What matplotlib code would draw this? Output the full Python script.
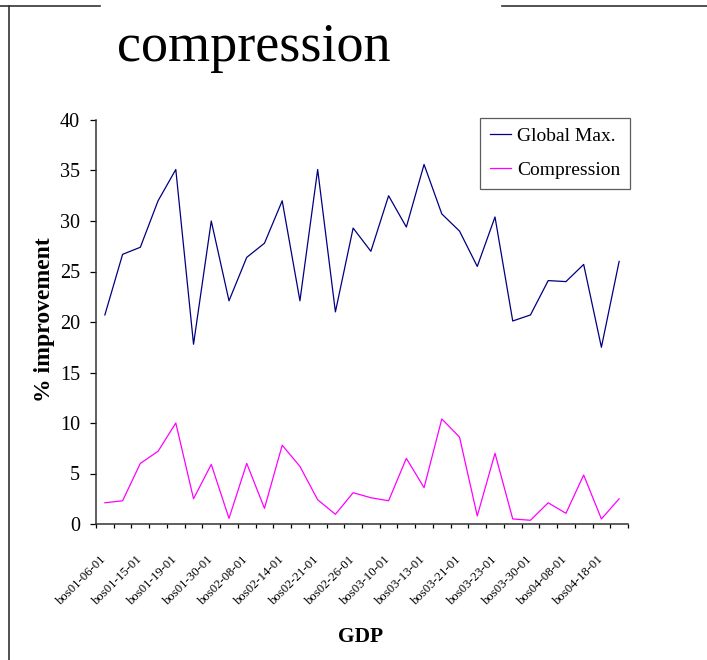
import numpy as np
import matplotlib
matplotlib.use('Agg')
from matplotlib import pyplot as plt
from matplotlib.lines import Line2D

plt.rcParams['font.family'] = ['Liberation Serif', 'DejaVu Serif']

# every other run date is labelled on the category axis
run_labels = ['bos01-06-01', 'bos01-15-01', 'bos01-19-01', 'bos01-30-01', 'bos02-08-01',
              'bos02-14-01', 'bos02-21-01', 'bos02-26-01', 'bos03-10-01', 'bos03-13-01',
              'bos03-21-01', 'bos03-23-01', 'bos03-30-01', 'bos04-08-01', 'bos04-18-01']
n_runs = 30

global_max = [20.7, 26.7, 27.4, 32.0, 35.1, 17.8, 30.0, 22.1, 26.4, 27.8,
              32.0, 22.1, 35.1, 21.0, 29.3, 27.0, 32.5, 29.4, 35.6, 30.7,
              29.0, 25.5, 30.4, 20.1, 20.7, 24.1, 24.0, 25.7, 17.5, 26.0]
compression = [2.1, 2.3, 6.0, 7.2, 10.0, 2.5, 5.9, 0.56, 6.0, 1.55,
               7.8, 5.7, 2.4, 0.96, 3.1, 2.6, 2.3, 6.5, 3.6, 10.4,
               8.6, 0.8, 7.0, 0.5, 0.37, 2.1, 1.06, 4.85, 0.5, 2.5]

W, H = 707, 660
fig = plt.figure(figsize=(W / 100, H / 100), dpi=100)
ax = fig.add_axes([96 / W, 1 - 524 / H, (628 - 96) / W, (524 - 120) / H])

x = np.arange(n_runs)
ax.plot(x, global_max, color='#000080', lw=0.9, label='Global Max.')
ax.plot(x, compression, color='#ff00ff', lw=0.9, label='Compression')

ax.set_xlim(-0.5, n_runs - 0.5)
ax.set_ylim(0, 40)
ax.set_yticks(np.arange(0, 41, 5))
ax.tick_params(axis='y', direction='out', length=4.5, width=0.9, pad=7, labelsize=14.5)

# tick marks between categories, labels under every second category
ax.set_xticks(np.arange(-0.5, n_runs, 1.0))
ax.set_xticklabels([])
ax.tick_params(axis='x', which='major', direction='out', length=3, width=0.9)
ax.set_xticks(np.arange(0, n_runs, 2), minor=True)
ax.set_xticklabels(run_labels, minor=True, rotation=45, ha='right', va='center',
                   rotation_mode='anchor', fontsize=9.2)
ax.tick_params(axis='x', which='minor', length=0, pad=24)

for side in ('top', 'right'):
    ax.spines[side].set_visible(False)
for side in ('left', 'bottom'):
    ax.spines[side].set_color('#333333')
    ax.spines[side].set_linewidth(1.1)

leg = ax.legend(loc='upper right', bbox_to_anchor=(1.004, 1.006), fontsize=14,
                frameon=True, fancybox=False, handlelength=1.1, handletextpad=0.3,
                borderpad=0.5, labelspacing=0.85, borderaxespad=0)
leg.get_frame().set_edgecolor('#333333')
leg.get_frame().set_linewidth(0.9)

fig.text(254 / W, 1 - 61 / H, 'compression', fontsize=39, ha='center', va='baseline')
fig.text(45 / W, 1 - 320 / H, '% improvement', fontsize=17, fontweight='bold',
         rotation=90, ha='center', va='center')
fig.text(361 / W, 1 - 642 / H, 'GDP', fontsize=15.5, fontweight='bold',
         ha='center', va='baseline')

# frame fragments along the top and left edge
for xs, ys in [([0, 100], [6, 6]), ([502, W], [6, 6]), ([9, 9], [6, H])]:
    fig.add_artist(Line2D([v / W for v in xs], [1 - v / H for v in ys],
                          color='#333333', lw=1.2))

fig.savefig('out.png', dpi=100)
